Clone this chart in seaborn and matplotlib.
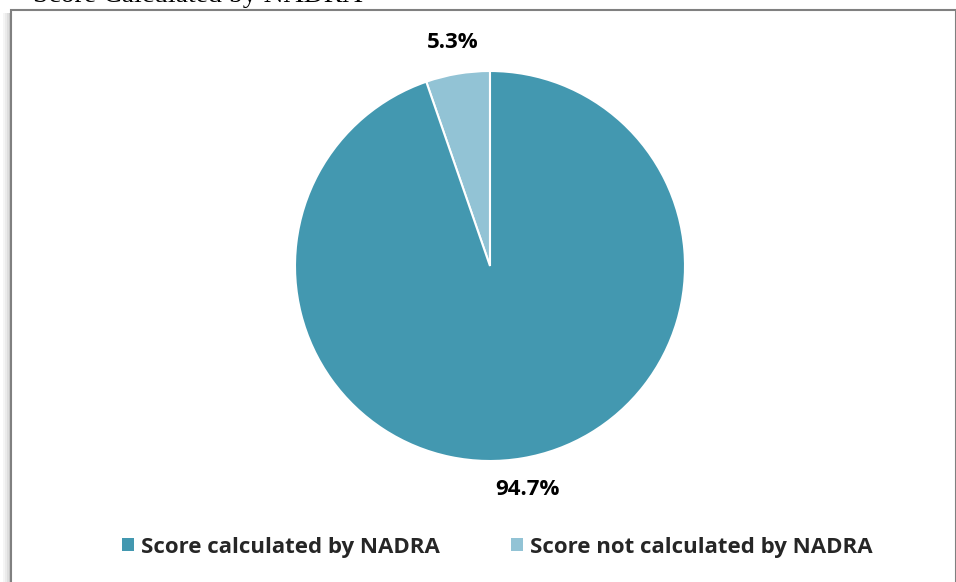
import matplotlib
matplotlib.use("Agg")
import matplotlib.pyplot as plt
import seaborn as sns
from matplotlib.patches import Rectangle

labels = ['Score calculated by NADRA', 'Score not calculated by NADRA']
shares = [94.7, 5.3]
colors = ['#4398B0', '#92C3D5']
title = 'Score Calculated by NADRA'

sns.set_style('white')
plt.rcParams['font.family'] = ['Open Sans', 'DejaVu Sans']

W, H = 956, 582
fig = plt.figure(figsize=(W / 100, H / 100), dpi=100)
ax = fig.add_axes([0, 0, 1, 1])

# frame with soft shadow on the left
for i, a in enumerate([0.04, 0.08, 0.13, 0.2]):
    ax.add_patch(Rectangle((3 + i * 2, -5), 2, H - 8, color='black', alpha=a, lw=0))
ax.add_patch(Rectangle((11, -5), W - 11, H - 5, fill=True, facecolor='white',
                       edgecolor='#808080', lw=1.5))

# title of the page, mostly cut off at the top
fig.text(33 / W, 1.0 - 2.5 / H, title, family='Liberation Serif', fontsize=20,
         va='baseline', ha='left', color='black')

wedges, texts, autotexts = ax.pie(
    shares[::-1], colors=colors[::-1], startangle=90, counterclock=True,
    center=(490, H - 266), radius=195,
    autopct='%1.1f%%', pctdistance=1.16,
    wedgeprops=dict(edgecolor='white', linewidth=1.5),
    textprops=dict(fontsize=16, fontweight='bold', color='black'),
    frame=True)
ax.set_xlim(0, W)
ax.set_ylim(0, H)
ax.set_aspect('equal')
ax.axis('off')

handles = wedges[::-1]
leg = ax.legend(handles, labels, loc='center', bbox_to_anchor=(497 / W, 1 - 547 / H),
                ncol=2, frameon=False, handlelength=0.55, handleheight=0.55,
                handletextpad=0.3, columnspacing=3.2,
                prop=dict(size=16, weight='bold'))
for h in leg.legend_handles:
    h.set_edgecolor('none')

fig.savefig('out.png', dpi=100)
